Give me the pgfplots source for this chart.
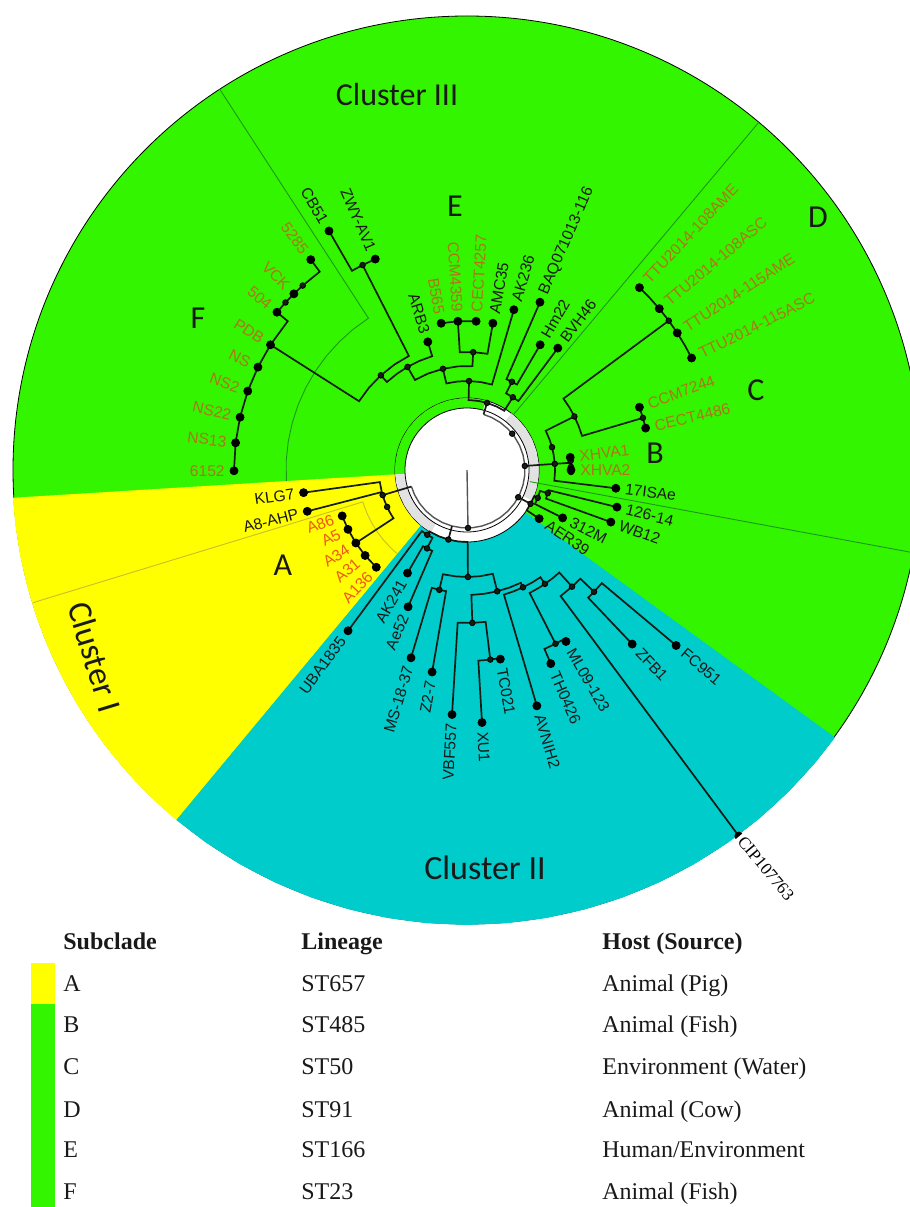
\documentclass[border=0pt]{standalone}
\usepackage{fontspec}
\setmainfont{Liberation Serif}
\newfontfamily\lblfont{Liberation Sans}
\newfontfamily\calfont{Carlito}
\usepackage{pgfplots}
\pgfplotsset{compat=1.18}

\definecolor{cG}{RGB}{51,245,0}
\definecolor{cY}{RGB}{255,255,0}
\definecolor{cC}{RGB}{0,204,204}
\definecolor{cOr}{RGB}{172,118,24}
\definecolor{cRd}{RGB}{240,88,24}
\definecolor{cLn}{RGB}{20,28,20}
\definecolor{cGr}{RGB}{226,226,226}
\definecolor{cSep}{RGB}{30,150,30}
\definecolor{cSepY}{RGB}{200,190,40}
\definecolor{cRoot}{RGB}{85,85,85}
\definecolor{cTxt}{RGB}{25,25,25}

\pgfplotsset{
  branch/.style={data cs=polar, draw=cLn, line width=0.85pt},
  sep/.style={data cs=polar, draw=cSep, line width=0.45pt},
  wedge/.style={data cs=polar, draw=none},
  leaf/.style={data cs=polar, only marks, mark=*,
    mark options={draw=none, fill=none},
    point meta=explicit symbolic, nodes near coords,
    visualization depends on={\thisrow{th} \as \lblang}},
  leafR/.style={leaf, every node near coord/.append style={anchor=west,
    rotate=\lblang, inner sep=4.5pt, font=\lblfont\fontsize{7.8}{9}\selectfont}},
  leafL/.style={leaf, every node near coord/.append style={anchor=east,
    rotate=\lblang+180, inner sep=4.5pt, font=\lblfont\fontsize{7.8}{9}\selectfont}},
}

\begin{document}
\begin{tikzpicture}
\begin{axis}[
  scale only axis, width=455pt, height=603.5pt,
  xmin=-467, xmax=443, ymin=-737, ymax=470,
  hide axis, clip marker paths=true,
]
% background disk and clusters
\addplot[only marks, mark=*, mark size=227pt, mark options={fill=cG, draw=none}] coordinates {(0,0)};
\addplot[wedge, fill=cY] coordinates {(183.5,0) (183.5,455) (187,455) (191,455) (195,455) (199,455) (203,455) (207,455) (211,455) (215,455) (219,455) (223,455) (227,455) (230.3,455) (230.3,0)};
\addplot[wedge, fill=cC] coordinates {(230.3,0) (230.3,455) (235,455) (240,455) (245,455) (250,455) (255,455) (260,455) (265,455) (270,455) (275,455) (280,455) (285,455) (290,455) (295,455) (300,455) (305,455) (310,455) (315,455) (320,455) (324,455) (324,0)};
% centre ring
\addplot[only marks, mark=*, mark size=36pt, mark options={fill=white, draw=none}] coordinates {(0,0)};
\addplot[wedge, fill=cG] coordinates {(75,0) (75,72) (85,72) (95,72) (105,72) (115,72) (125,72) (135,72) (145,72) (155,72) (165,72) (175,72) (183.5,72) (183.5,0)};
\addplot[wedge, fill=cGr] coordinates {(-25,0) (-25,72) (-15,72) (-5,72) (5,72) (15,72) (25,72) (35,72) (45,72) (52,72) (52,0)};
\addplot[wedge, fill=cGr] coordinates {(183.5,0) (183.5,72) (190,72) (200,72) (210,72) (220,72) (230,72) (240,72) (240,0)};
\addplot[only marks, mark=*, mark size=31pt, mark options={fill=white, draw=none}] coordinates {(0,0)};

% subclade separators
\addplot[sep] coordinates {(123,454) (123,181) (129,181) (135,181) (141,181) (147,181) (153,181) (159,181) (165,181) (171,181) (177,181) (183.5,181)};
\addplot[sep, draw=cSepY] coordinates {(197,454) (197,109) (203,109) (209,109) (215,109) (221,109) (227,109) (230,109)};
\addplot[sep] coordinates {(50,73) (50,454)};
\addplot[sep] coordinates {(-10.5,64) (-10.5,454)};

% root
\addplot[data cs=polar, draw=cRoot, line width=0.7pt] coordinates {(-89,0) (-89,58)};
\addplot[data cs=polar, draw=cRoot, line width=0.7pt] coordinates {(73.4,58) (65,58) (55,58) (45,58) (35,58) (25,58) (15,58) (5,58) (-5,58) (-15,58) (-25,58) (-35,58) (-45,58) (-55,58) (-65,58) (-75,58) (-85,58) (-95,58) (-105,58) (-115,58) (-125,58) (-135,58) (-145,58) (-155,58) (-163.4,58)};

% cluster III: E and F
\addplot[branch] coordinates {(73.4,58) (73.4,70)};
\addplot[branch] coordinates {(88.7,89) (88.7,70) (80,70) (73.4,70) (65,70) (57.8,70) (57.8,86)};
\addplot[branch] coordinates {(63,99) (63,86) (58,86) (53.3,86) (53.3,152)};
\addplot[branch] coordinates {(66.5,183) (66.5,99) (63,99) (59.7,99) (59.7,145)};
\addplot[branch] coordinates {(103.4,104) (103.4,89) (96,89) (88.7,89) (81,89) (73.7,89) (73.7,167)};
\addplot[branch] coordinates {(120,119) (120,104) (112,104) (103.4,104) (95,104) (87,104) (87,118)};
\addplot[branch] coordinates {(93.5,149) (93.5,118) (87,118) (80,118) (80,149)};
\addplot[branch] coordinates {(100,149) (93.5,149) (86.5,149)};
\addplot[branch] coordinates {(132.3,128) (132.3,119) (126,119) (120,119) (113.5,119) (107,119) (107,134)};
\addplot[branch] coordinates {(147.5,233) (147.5,128) (140,128) (132.3,128) (124.5,128) (117,128) (117,230)};
\addplot[branch] coordinates {(120,276) (120,230) (117,230) (113.5,230)};
\addplot[branch] coordinates {(180.2,233) (173.3,233) (166.9,233) (160.2,233) (153.8,233) (147.5,233) (140.3,233) (140.3,247) (137.3,247) (134.5,247) (131.7,247) (126.6,247) (126.6,262)};

% cluster III: B, C, D
\addplot[branch] coordinates {(4,58) (4,104)};
\addplot[branch] coordinates {(26.5,120) (26.5,88) (20,88) (15,88) (10,88) (4,88) (-1,88) (-7,88) (-7,150)};
\addplot[branch] coordinates {(7.2,104) (4,104) (-1.1,104)};
\addplot[branch] coordinates {(36.5,251) (36.5,120) (31.5,120) (26.5,120) (21.5,120) (16.5,120) (16.5,183.5)};
\addplot[branch] coordinates {(20,183.5) (16.5,183.5) (13.2,183.5)};
\addplot[branch] coordinates {(46.6,251) (43.3,251) (40,251) (36.5,251) (33.1,251) (29.8,251) (26.5,251)};
\addplot[branch] coordinates {(-28,58) (-28,72)};
\addplot[branch] coordinates {(-21.5,76) (-21.5,72) (-28,72) (-34,72) (-34,87)};
\addplot[branch] coordinates {(-26.6,107) (-26.6,76) (-21.5,76) (-16,76) (-16,84)};
\addplot[branch] coordinates {(-19.9,153) (-19.9,84) (-16,84) (-13.9,84) (-13.9,154.5)};

% cluster I: A
\addplot[branch] coordinates {(196.6,58) (196.6,88)};
\addplot[branch] coordinates {(187.9,165) (187.9,88) (194.5,88) (196.6,88) (200.5,88) (204.8,88) (209,88) (213.3,88) (213.3,133)};
\addplot[branch] coordinates {(194.5,88) (194.5,165)};
\addplot[branch] coordinates {(200.2,133) (206.5,133) (213.3,133) (220,133) (227,133)};

% cluster II
\addplot[branch] coordinates {(-105,58) (-105,72)};
\addplot[branch] coordinates {(-121.5,76) (-121.5,72) (-113,72) (-105,72) (-97,72) (-89.5,72) (-89.5,107)};
\addplot[branch] coordinates {(-126.5,200) (-126.5,76) (-121.5,76) (-117,76) (-117,88)};
\addplot[branch] coordinates {(-120,119) (-120,88) (-117,88) (-113.3,88) (-113.3,149)};
\addplot[branch] coordinates {(-103,123) (-103,107) (-96,107) (-89.5,107) (-83,107) (-76,107) (-76,125)};
\addplot[branch] coordinates {(-106.6,196) (-106.6,123) (-103,123) (-99.8,123) (-99.8,205)};
\addplot[branch] coordinates {(-88,153) (-88,125) (-82,125) (-76,125) (-70,125) (-64.5,125) (-64.5,130)};
\addplot[branch] coordinates {(-93.5,245) (-93.5,153) (-88,153) (-83,153) (-83,191)};
\addplot[branch] coordinates {(-86.6,253) (-86.6,191) (-83,191) (-80,191) (-80,192)};
\addplot[branch] coordinates {(-73.5,246) (-73.5,130) (-69,130) (-64.5,130) (-60,130) (-55.6,130) (-55.6,138)};
\addplot[branch] coordinates {(-63,195) (-63,138) (-59,138) (-55.6,138) (-52,138) (-48,138) (-48,157)};
\addplot[branch] coordinates {(-66.6,211) (-66.6,195) (-63,195) (-60,195) (-60,198)};
\addplot[branch] coordinates {(-53.4,456) (-53.4,157) (-48,157) (-43.8,157) (-43.8,176)};
\addplot[branch] coordinates {(-46.5,240) (-46.5,176) (-43.8,176) (-40,176) (-40,273)};

% nodes and tips
\addplot[data cs=polar, only marks, mark=*, mark size=1.4pt, mark options={fill=cLn, draw=none}] coordinates {
(38.8,58) (4,58) (-28,58) (-89,58)
(73.4,70) (88.7,89) (73.7,167) (103.4,104) (87,118) (80,149) (100,149) (93.5,149) (86.5,149)
(120,119) (107,134) (132.3,128) (117,230) (120,276) (113.5,230)
(180.2,233) (173.3,233) (166.9,233) (160.2,233) (153.8,233) (147.5,233)
(140.3,247) (137.3,247) (134.5,247) (131.7,247) (126.6,262)
(57.8,86) (63,99) (66.5,183) (59.7,145) (53.3,152)
(15,88) (4,88) (7.2,104) (5,104) (1.7,104) (-1.1,104) (-7,150) (26.5,120)
(16.5,183.5) (20,183.5) (13.2,183.5)
(46.6,251) (40,251) (36.5,251) (33.1,251) (26.5,251)
(-28,72) (-21.5,76) (-16,84) (-34,87) (-26.6,107) (-19.9,153) (-13.9,154.5)
(196.6,88) (204.8,88) (187.9,165) (194.5,165)
(200.2,133) (206.5,133) (213.3,133) (220,133) (227,133)
(-105,72) (-121.5,76) (-126.5,200) (-117,88) (-120,119) (-113.3,149)
(-89.5,107) (-103,123) (-106.6,196) (-99.8,205) (-76,125) (-88,153) (-93.5,245)
(-83,191) (-86.6,253) (-80,192) (-64.5,130) (-73.5,246) (-55.6,138) (-63,195)
(-66.6,211) (-60,198) (-48,157) (-53.4,456) (-43.8,176) (-46.5,240) (-40,273)
};

% leaf labels
\addplot[leafR, every node near coord/.append style={text=cTxt}] table[x=th, y=r, meta=t] {
th r t
80 149 AMC35
73.7 167 AK236
66.5 183 BAQ071013-116
59.7 145 Hm22
53.3 152 BVH46
-7 150 17ISAe
-13.9 154.5 126-14
-19.9 153 WB12
-26.6 107 312M
-34 87 AER39
-40 273 FC951
-46.5 240 ZFB1
-60 198 ML09-123
-66.6 211 TH0426
-73.5 246 AVNIH2
-80 192 TC021
-86.6 253 XU1
};
\addplot[leafR, every node near coord/.append style={text=cOr}] table[x=th, y=r, meta=t] {
th r t
86.5 149 CECT4257
46.6 251 TTU2014-108AME
40 251 TTU2014-108ASC
33.1 251 TTU2014-115AME
26.5 251 TTU2014-115ASC
20 183.5 CCM7244
13.2 183.5 CECT4486
7 104 XHVA1
0 104 XHVA2
};
\addplot[leafL, every node near coord/.append style={text=cTxt}] table[x=th, y=r, meta=t] {
th r t
107 134 ARB3
113.5 230 ZWY-AV1
120 276 CB51
187.9 165 KLG7
194.5 165 A8-AHP
233.5 200 UBA1835
240 119 AK241
246.7 149 Ae52
253.4 196 MS-18-37
260.2 205 Z2-7
266.5 245 VBF557
};
\addplot[leafL, every node near coord/.append style={text=cOr}] table[x=th, y=r, meta=t] {
th r t
100 149 B565
93.5 149 CCM4359
126.6 262 5285
134.5 247 VCK
140.3 247 504
147.5 233 PDB
153.8 233 NS
160.2 233 NS2
166.9 233 NS22
173.3 233 NS13
180.2 233 6152
};
\addplot[leafL, every node near coord/.append style={text=cRd}] table[x=th, y=r, meta=t] {
th r t
200.2 133 A86
206.5 133 A5
213.3 133 A34
220 133 A31
227 133 A136
};
\addplot[leaf, every node near coord/.append style={anchor=west, rotate=-50, fill=white,
  inner sep=1.5pt, text=black, font=\fontsize{8.5}{10}\selectfont}] table[x=th, y=r, meta=t] {
th r t
-53.4 456 CIP107763
};

% cluster and subclade names
\node[font=\calfont\fontsize{16}{18}\selectfont, text=cTxt] at (axis cs:-70,375) {Cluster III};
\node[font=\calfont\fontsize{17}{19}\selectfont, text=cTxt] at (axis cs:18,-398) {Cluster II};
\node[font=\calfont\fontsize{17}{19}\selectfont, text=cTxt, rotate=-73] at (axis cs:-372,-187) {Cluster I};
\node[font=\calfont\fontsize{16}{18}\selectfont, text=cTxt] at (axis cs:-269,152) {F};
\node[font=\calfont\fontsize{16}{18}\selectfont, text=cTxt] at (axis cs:-12,264) {E};
\node[font=\calfont\fontsize{16}{18}\selectfont, text=cTxt] at (axis cs:351,253) {D};
\node[font=\calfont\fontsize{16}{18}\selectfont, text=cTxt] at (axis cs:289,80) {C};
\node[font=\calfont\fontsize{16}{18}\selectfont, text=cTxt] at (axis cs:188,17) {B};
\node[font=\calfont\fontsize{16}{18}\selectfont, text=cTxt] at (axis cs:-184,-95) {A};

% key table
\addplot[fill=cY, draw=none] coordinates {(-436,-493) (-412,-493) (-412,-534) (-436,-534)};
\addplot[fill=cG, draw=none] coordinates {(-436,-534) (-412,-534) (-412,-737) (-436,-737)};
\begin{scope}[every node/.style={anchor=base west, inner sep=0pt, text=cTxt, font=\fontsize{12}{14}\selectfont}]
\node at (axis cs:-404,-480) {\textbf{Subclade}};
\node at (axis cs:-166,-480) {\textbf{Lineage}};
\node at (axis cs:135,-480) {\textbf{Host (Source)}};
\node at (axis cs:-404,-522) {A};
\node at (axis cs:-166,-522) {ST657};
\node at (axis cs:135,-522) {Animal (Pig)};
\node at (axis cs:-404,-563) {B};
\node at (axis cs:-166,-563) {ST485};
\node at (axis cs:135,-563) {Animal (Fish)};
\node at (axis cs:-404,-605) {C};
\node at (axis cs:-166,-605) {ST50};
\node at (axis cs:135,-605) {Environment (Water)};
\node at (axis cs:-404,-647) {D};
\node at (axis cs:-166,-647) {ST91};
\node at (axis cs:135,-647) {Animal (Cow)};
\node at (axis cs:-404,-688) {E};
\node at (axis cs:-166,-688) {ST166};
\node at (axis cs:135,-688) {Human/Environment};
\node at (axis cs:-404,-730) {F};
\node at (axis cs:-166,-730) {ST23};
\node at (axis cs:135,-730) {Animal (Fish)};
\end{scope}
\end{axis}
\pgfresetboundingbox
\path[use as bounding box] (current axis.south west) rectangle (current axis.north east);
\end{tikzpicture}
\end{document}
